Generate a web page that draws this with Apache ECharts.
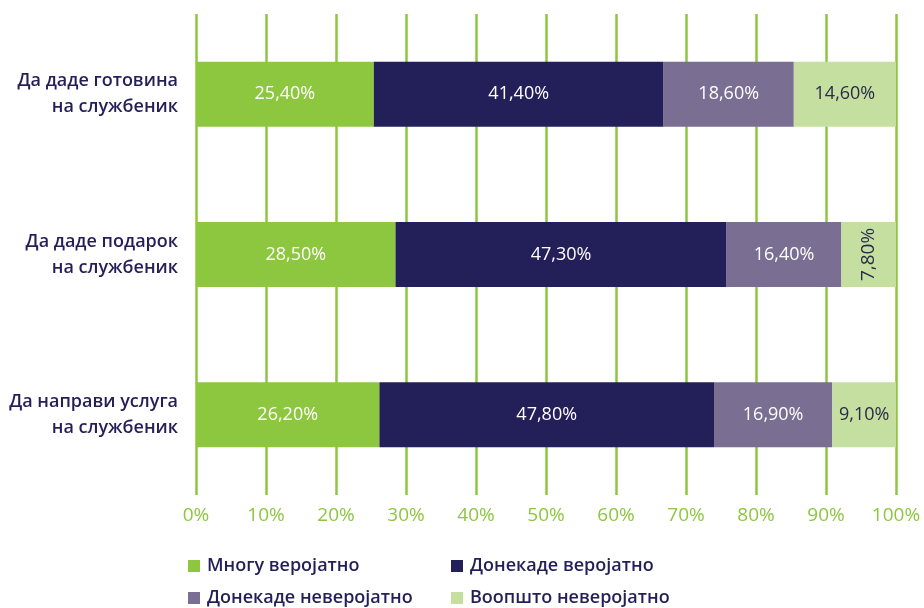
<!DOCTYPE html>
<html><head><meta charset="utf-8">
<script src="https://cdn.jsdelivr.net/npm/echarts@6/dist/echarts.min.js"></script>
<style>html,body{margin:0;padding:0;background:#fff}#c{width:924px;height:608px}</style>
</head><body><div id="c"></div>
<script>
const categories = ['Да даде готовина\nна службеник', 'Да даде подарок\nна службеник', 'Да направи услуга\nна службеник'];
const seriesNames = ['Многу веројатно', 'Донекаде веројатно', 'Донекаде неверојатно', 'Воопшто неверојатно'];
const s1 = [25.4, 28.5, 26.2];
const s2 = [41.4, 47.3, 47.8];
const s3 = [18.6, 16.4, 16.9];
const s4 = [14.6, 7.8, 9.1];
const xTicks = [0, 10, 20, 30, 40, 50, 60, 70, 80, 90, 100];

const colors = ['#8dc63f', '#231f58', '#7a6e93', '#c4df9f'];
const labelColors = ['#ffffff', '#ffffff', '#ffffff', '#2a2a4a'];
const font = 'Open Sans';
const fmt = v => v.toFixed(2).replace('.', ',') + '%';

const allData = [s1, s2, s3, s4];
const series = allData.map((arr, i) => ({
  name: seriesNames[i],
  type: 'bar',
  stack: 'total',
  barWidth: 65,
  itemStyle: { color: colors[i] },
  label: {
    show: true, position: 'inside', color: labelColors[i],
    fontFamily: font, fontSize: 18,
    formatter: p => fmt(p.value)
  },
  data: arr.map(v => (i === 3 && v < 8) ? { value: v, label: { rotate: 90, fontSize: 19 } } : v)
}));

const legendPos = [[188, 557], [451, 557], [188, 589], [451, 589]];
const legends = seriesNames.map((n, i) => ({
  data: [n], left: legendPos[i][0], top: legendPos[i][1], itemWidth: 12, itemHeight: 12, itemGap: 0,
  icon: 'rect', selectedMode: false, padding: 0,
  textStyle: { color: '#231f58', fontSize: 18, fontWeight: 600, fontFamily: font, padding: [0, 0, 0, 2] }
}));

const chart = echarts.init(document.getElementById('c'), null, { renderer: 'canvas' });
chart.setOption({
  animation: false,
  textStyle: { fontFamily: font },
  grid: { left: 196, right: 28, top: 14, bottom: 113 },
  xAxis: {
    type: 'value', min: 0, max: 100, interval: 10,
    axisLine: { show: false },
    axisTick: { show: false },
    splitLine: { show: true, lineStyle: { color: '#8dc63f', width: 2.5 } },
    axisLabel: { color: '#8dc63f', fontSize: 19, fontFamily: font, margin: 11, formatter: v => v + '%' }
  },
  yAxis: {
    type: 'category', data: categories, inverse: true,
    axisLine: { show: false }, axisTick: { show: false },
    axisLabel: { color: '#231f58', fontSize: 18, fontWeight: 600, fontFamily: font, lineHeight: 26, align: 'right', margin: 18 }
  },
  legend: legends,
  series: series
});
</script></body></html>
